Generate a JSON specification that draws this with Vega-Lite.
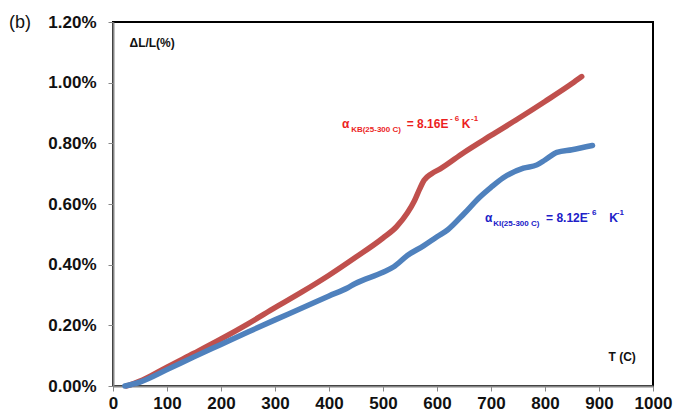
{
  "$schema": "https://vega.github.io/schema/vega-lite/v6.json",
  "autosize": "none",
  "width": 540,
  "height": 364,
  "padding": {"left": 113, "top": 22, "right": 41, "bottom": 28},
  "background": "white",
  "config": {
    "font": "Liberation Sans",
    "view": {"stroke": "black", "strokeWidth": 2},
    "axis": {"grid": false, "domainColor": "#868686", "domainWidth": 2, "tickColor": "#868686", "tickWidth": 1, "tickSize": 5, "labelFont": "Liberation Sans", "labelFontWeight": "bold", "labelFontSize": 17, "labelColor": "#111111", "labelOverlap": false, "labelFlush": false, "labelBound": false}
  },
  "title": {"text": "(b)", "anchor": "start", "frame": "group", "orient": "top", "offset": 0, "dx": -104, "dy": 19, "fontSize": 18, "fontWeight": "normal", "font": "Liberation Sans", "color": "#111111"},
  "datasets": {
    "curves": [
      {"series": "KB", "T": 25, "dLL": 0.0},
      {"series": "KB", "T": 50, "dLL": 0.016},
      {"series": "KB", "T": 75, "dLL": 0.038},
      {"series": "KB", "T": 100, "dLL": 0.062},
      {"series": "KB", "T": 150, "dLL": 0.108},
      {"series": "KB", "T": 200, "dLL": 0.155},
      {"series": "KB", "T": 250, "dLL": 0.205},
      {"series": "KB", "T": 300, "dLL": 0.258},
      {"series": "KB", "T": 350, "dLL": 0.310},
      {"series": "KB", "T": 400, "dLL": 0.365},
      {"series": "KB", "T": 450, "dLL": 0.425},
      {"series": "KB", "T": 500, "dLL": 0.488},
      {"series": "KB", "T": 525, "dLL": 0.525},
      {"series": "KB", "T": 545, "dLL": 0.570},
      {"series": "KB", "T": 558, "dLL": 0.610},
      {"series": "KB", "T": 568, "dLL": 0.650},
      {"series": "KB", "T": 576, "dLL": 0.678},
      {"series": "KB", "T": 590, "dLL": 0.700},
      {"series": "KB", "T": 606, "dLL": 0.716},
      {"series": "KB", "T": 650, "dLL": 0.770},
      {"series": "KB", "T": 700, "dLL": 0.826},
      {"series": "KB", "T": 750, "dLL": 0.881},
      {"series": "KB", "T": 800, "dLL": 0.938},
      {"series": "KB", "T": 850, "dLL": 0.997},
      {"series": "KB", "T": 868, "dLL": 1.020},
      {"series": "KI", "T": 22, "dLL": 0.0},
      {"series": "KI", "T": 50, "dLL": 0.013},
      {"series": "KI", "T": 100, "dLL": 0.054},
      {"series": "KI", "T": 150, "dLL": 0.096},
      {"series": "KI", "T": 200, "dLL": 0.137},
      {"series": "KI", "T": 250, "dLL": 0.178},
      {"series": "KI", "T": 300, "dLL": 0.218},
      {"series": "KI", "T": 350, "dLL": 0.257},
      {"series": "KI", "T": 400, "dLL": 0.297},
      {"series": "KI", "T": 435, "dLL": 0.324},
      {"series": "KI", "T": 448, "dLL": 0.337},
      {"series": "KI", "T": 500, "dLL": 0.375},
      {"series": "KI", "T": 520, "dLL": 0.393},
      {"series": "KI", "T": 545, "dLL": 0.430},
      {"series": "KI", "T": 575, "dLL": 0.462},
      {"series": "KI", "T": 600, "dLL": 0.492},
      {"series": "KI", "T": 620, "dLL": 0.515},
      {"series": "KI", "T": 650, "dLL": 0.568},
      {"series": "KI", "T": 680, "dLL": 0.624},
      {"series": "KI", "T": 700, "dLL": 0.655},
      {"series": "KI", "T": 722, "dLL": 0.686},
      {"series": "KI", "T": 760, "dLL": 0.718},
      {"series": "KI", "T": 785, "dLL": 0.729},
      {"series": "KI", "T": 800, "dLL": 0.745},
      {"series": "KI", "T": 822, "dLL": 0.770},
      {"series": "KI", "T": 850, "dLL": 0.779},
      {"series": "KI", "T": 888, "dLL": 0.793}
    ],
    "notes": [
      {"series": "KB", "part": "main", "T": 424, "dLL": 0.850, "text": "α"},
      {"series": "KB", "part": "sub", "T": 441, "dLL": 0.837, "text": "KB(25-300 C)"},
      {"series": "KB", "part": "main", "T": 544, "dLL": 0.850, "text": "= 8.16E"},
      {"series": "KB", "part": "sup", "T": 624, "dLL": 0.874, "text": "- 6"},
      {"series": "KB", "part": "main", "T": 646, "dLL": 0.850, "text": "K"},
      {"series": "KB", "part": "sup", "T": 663, "dLL": 0.874, "text": "-1"},
      {"series": "KI", "part": "main", "T": 689, "dLL": 0.541, "text": "α"},
      {"series": "KI", "part": "sub", "T": 704, "dLL": 0.527, "text": "KI(25-300 C)"},
      {"series": "KI", "part": "main", "T": 802, "dLL": 0.541, "text": "= 8.12E"},
      {"series": "KI", "part": "sup", "T": 878, "dLL": 0.564, "text": "- 6"},
      {"series": "KI", "part": "main", "T": 919, "dLL": 0.541, "text": "K"},
      {"series": "KI", "part": "sup", "T": 933, "dLL": 0.564, "text": "-1"}
    ]
  },
  "encoding": {
    "x": {"field": "T", "type": "quantitative", "scale": {"domain": [0, 1000], "nice": false},
      "axis": {"values": [0, 100, 200, 300, 400, 500, 600, 700, 800, 900, 1000], "format": "d", "labelPadding": 4, "title": "T (C)", "titleFont": "Liberation Sans", "titleFontWeight": "bold", "titleFontSize": 12, "titleColor": "#111111", "titleAnchor": "start", "titleAlign": "left", "titleBaseline": "middle", "titleX": 495, "titleY": -30, "titleAngle": 0}},
    "y": {"field": "dLL", "type": "quantitative", "scale": {"domain": [0, 1.2], "nice": false},
      "axis": {"values": [0, 0.2, 0.4, 0.6, 0.8, 1.0, 1.2], "labelExpr": "format(datum.value, '.2f') + '%'", "labelPadding": 12, "title": "ΔL/L(%)", "titleFont": "Liberation Sans", "titleFontWeight": "bold", "titleFontSize": 12, "titleColor": "#111111", "titleAngle": 0, "titleAlign": "left", "titleBaseline": "middle", "titleX": 16, "titleY": 20}}
  },
  "layer": [
    {"data": {"name": "curves"}, "transform": [{"filter": "datum.series === 'KB'"}],
      "mark": {"type": "line", "strokeWidth": 5.5, "strokeCap": "round", "strokeJoin": "round", "interpolate": "monotone"},
      "encoding": {"stroke": {"field": "series", "type": "nominal", "scale": {"domain": ["KB", "KI"], "range": ["#C0504D", "#4F81BD"]}, "legend": null}}},
    {"data": {"name": "curves"}, "transform": [{"filter": "datum.series === 'KI'"}],
      "mark": {"type": "line", "strokeWidth": 5.5, "strokeCap": "round", "strokeJoin": "round", "interpolate": "monotone"},
      "encoding": {"stroke": {"field": "series", "type": "nominal", "scale": {"domain": ["KB", "KI"], "range": ["#C0504D", "#4F81BD"]}, "legend": null}}},
    {"data": {"name": "notes"}, "transform": [{"filter": "datum.part === 'main'"}],
      "mark": {"type": "text", "align": "left", "baseline": "alphabetic", "fontSize": 12, "fontWeight": "bold", "font": "Liberation Sans"},
      "encoding": {"text": {"field": "text"}, "fill": {"field": "series", "type": "nominal", "scale": {"domain": ["KB", "KI"], "range": ["#EC1F1F", "#2020C8"]}, "legend": null}}},
    {"data": {"name": "notes"}, "transform": [{"filter": "datum.part !== 'main'"}],
      "mark": {"type": "text", "align": "left", "baseline": "alphabetic", "fontSize": 8, "fontWeight": "bold", "font": "Liberation Sans"},
      "encoding": {"text": {"field": "text"}, "fill": {"field": "series", "type": "nominal", "scale": {"domain": ["KB", "KI"], "range": ["#EC1F1F", "#2020C8"]}, "legend": null}}}
  ]
}
